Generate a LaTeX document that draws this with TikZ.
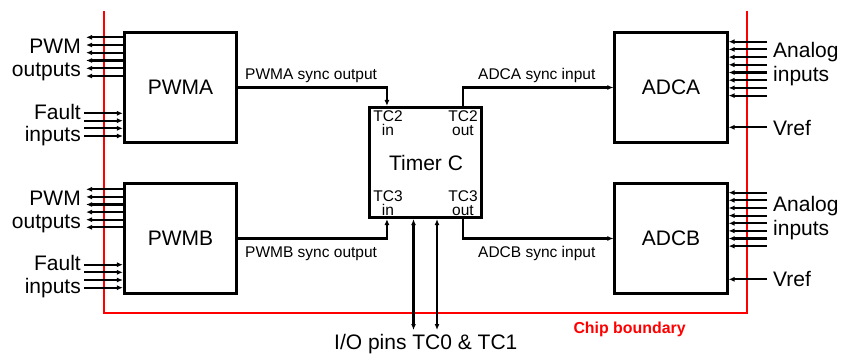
\documentclass[tikz,border=0pt]{standalone}
\usepackage{fontspec}
\setmainfont{Liberation Sans}
\usetikzlibrary{arrows.meta,calc}
\begin{document}
\begin{tikzpicture}[x=1pt,y=-1pt,
  blk/.style={draw, line width=2.6pt, minimum width=112.5pt, minimum height=110.5pt, inner sep=0pt, font=\fontsize{21}{24}\selectfont},
  wire/.style={line width=2.1pt},
  arr/.style={wire, -{Latex[length=6pt,width=5pt]}},
  dbl/.style={wire, {Latex[length=6pt,width=5pt]}-{Latex[length=6pt,width=5pt]}},
  big/.style={font=\fontsize{21}{24}\selectfont, inner sep=0pt},
  small/.style={font=\fontsize{15.5}{16}\selectfont, inner sep=0pt},
  tcl/.style={font=\fontsize{15.5}{14}\selectfont, inner sep=0pt},
  boundary/.style={draw=red, line width=2.3pt}]
\useasboundingbox (0,0) rectangle (841,354);

% chip boundary
\draw[boundary] (104,11) -- (104,313) -- (747,313) -- (747,11);
\node[anchor=base west, inner sep=0pt, text=red, font=\fontsize{15.9}{16}\selectfont\bfseries] (chip) at (573.3,333.3) {Chip boundary};

% blocks
\node[blk] (pwma) at (180.5,87.5) {PWMA};
\node[blk] (pwmb) at (180.5,238.5) {PWMB};
\node[blk] (adca) at (671,87.5) {ADCA};
\node[blk] (adcb) at (671,238.5) {ADCB};
\node[blk] (timer) at (425.5,162.5) {};
\node[big, anchor=base] (tlabel) at (426,170.7) {Timer C};

% timer port labels
\node[tcl, anchor=base] (tc2a) at (388,121) {TC2};
\node[tcl, anchor=base] (tc2b) at (388,135) {in};
\node[tcl, anchor=base] (tc2c) at (463,121) {TC2};
\node[tcl, anchor=base] (tc2d) at (463,135) {out};
\node[tcl, anchor=base] (tc3a) at (388,201.7) {TC3};
\node[tcl, anchor=base] (tc3b) at (388,215.7) {in};
\node[tcl, anchor=base] (tc3c) at (463,201.7) {TC3};
\node[tcl, anchor=base] (tc3d) at (463,215.7) {out};

% ports on timer
\coordinate (t2i) at ($(timer.north west)+(19,0)$);
\coordinate (t2o) at ($(timer.north east)+(-20,0)$);
\coordinate (t3i) at ($(timer.south west)+(19,0)$);
\coordinate (t3o) at ($(timer.south east)+(-20,0)$);

% sync connections
\draw[arr] (pwma.east) -| (t2i);
\draw[arr] (t2o) |- (adca.west);
\draw[arr] (pwmb.east) -| (t3i);
\draw[arr] (t3o) |- (adcb.west);
\node[small, anchor=base west] (l1) at (245,79.3) {PWMA sync output};
\node[small, anchor=base west] (l2) at (478,79.3) {ADCA sync input};
\node[small, anchor=base west] (l3) at (245,257.7) {PWMB sync output};
\node[small, anchor=base west] (l4) at (478,257.7) {ADCB sync input};

% I/O pins
\coordinate (io1) at (413.5,330);
\coordinate (io2) at (437,330);
\draw[dbl] (timer.south -| io1) -- (io1);
\draw[dbl] (timer.south -| io2) -- (io2);
\node[big, anchor=base west] (iol) at (334,349.3) {I/O pins TC0 \& TC1};

% PWMA pins
\foreach \y in {37.3,45,52.7,60.5,68.3,76}
  \draw[arr] (pwma.west |- 0,\y) -- (86,\y);
\foreach \y in {113.3,120.7,128.3,136}
  \draw[arr] (84,\y) -- (pwma.west |- 0,\y);
\node[big, anchor=base east] (pa1) at (81,53.3) {PWM};
\node[big, anchor=base east] (pa2) at (81,76) {outputs};
\node[big, anchor=base east] (pa3) at (81,119) {Fault};
\node[big, anchor=base east] (pa4) at (81,141.7) {inputs};

% PWMB pins
\foreach \y in {189.3,196.9,204.5,212.1,219.7,227.3}
  \draw[arr] (pwmb.west |- 0,\y) -- (86,\y);
\foreach \y in {264.7,272.3,280,287.7}
  \draw[arr] (84,\y) -- (pwmb.west |- 0,\y);
\node[big, anchor=base east] (pb1) at (81,205) {PWM};
\node[big, anchor=base east] (pb2) at (81,228.3) {outputs};
\node[big, anchor=base east] (pb3) at (81,270.7) {Fault};
\node[big, anchor=base east] (pb4) at (81,293.3) {inputs};

% ADCA pins
\foreach \y in {41.7,49.4,57.1,64.8,72.5,80.2,87.9,95.6}
  \draw[arr] (767,\y) -- (adca.east |- 0,\y);
\draw[arr] (767,127.3) -- (adca.east |- 0,127.3);
\node[big, anchor=base west] (aa1) at (773,57.3) {Analog};
\node[big, anchor=base west] (aa2) at (773,81.3) {inputs};
\node[big, anchor=base west] (aa3) at (773,135) {Vref};

% ADCB pins
\foreach \y in {192.7,200.3,208,215.6,223.3,230.9,238.5,246.1}
  \draw[arr] (767,\y) -- (adcb.east |- 0,\y);
\draw[arr] (767,279.3) -- (adcb.east |- 0,279.3);
\node[big, anchor=base west] (ab1) at (773,211.7) {Analog};
\node[big, anchor=base west] (ab2) at (773,235) {inputs};
\node[big, anchor=base west] (ab3) at (773,286.7) {Vref};
\end{tikzpicture}
\end{document}
